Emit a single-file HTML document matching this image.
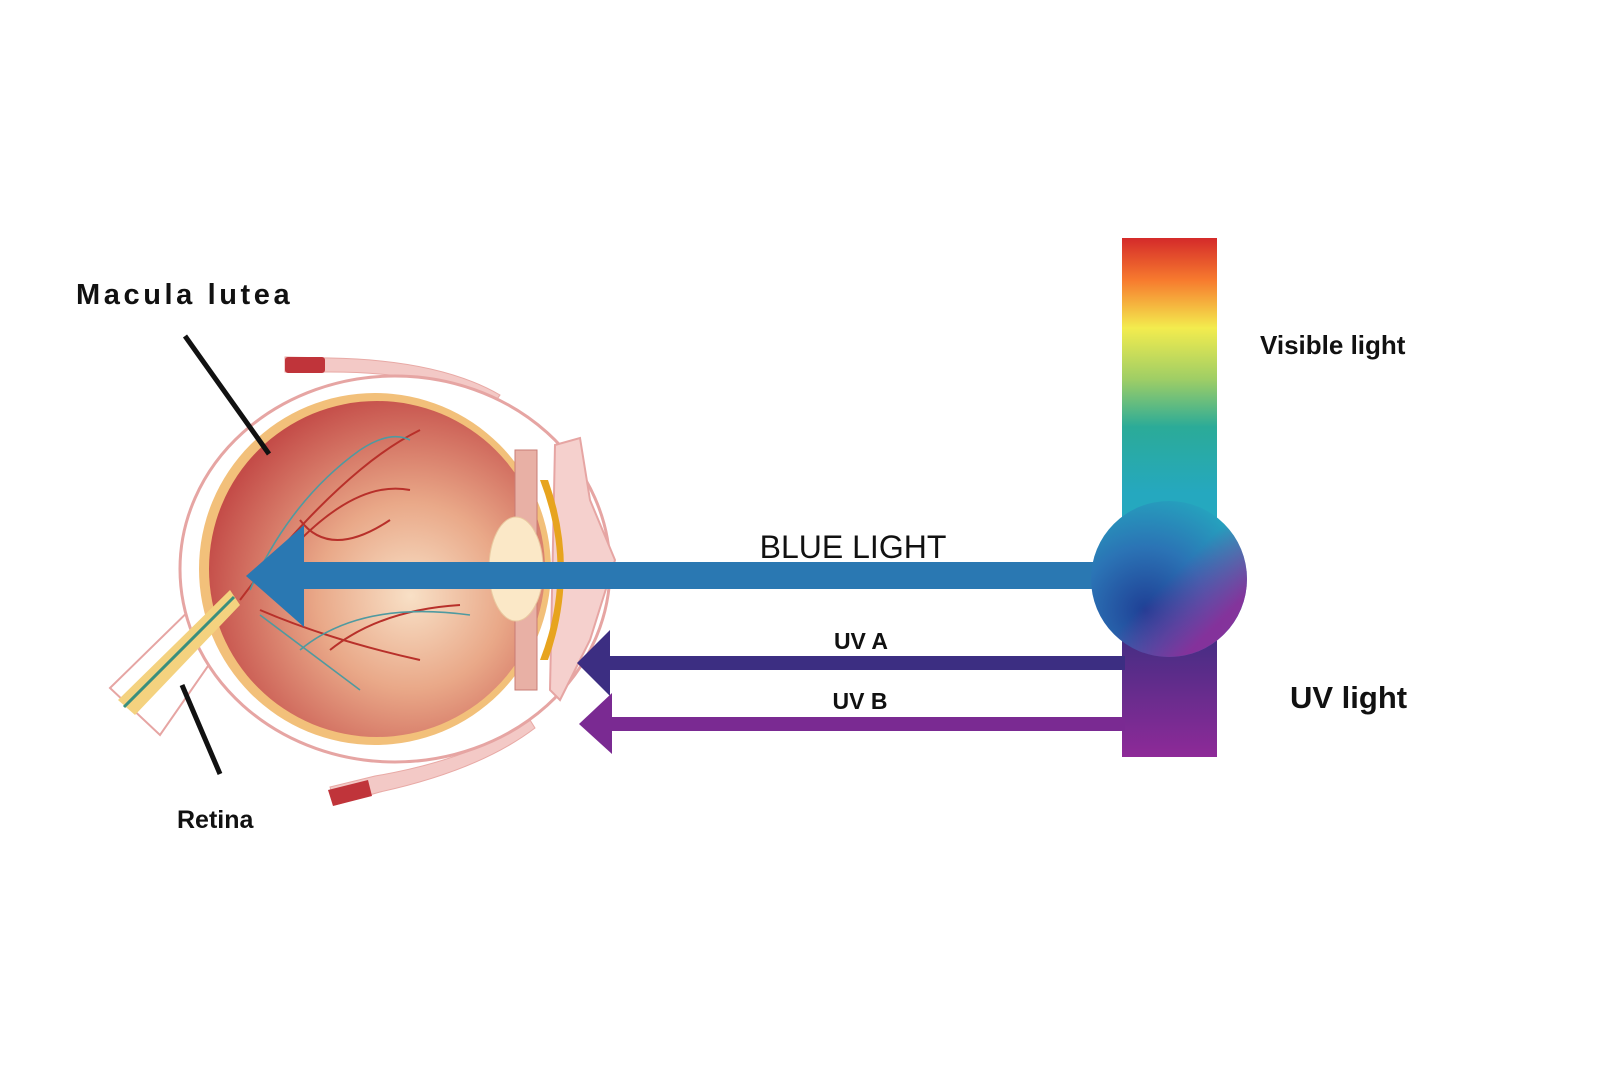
<!DOCTYPE html>
<html><head><meta charset="utf-8"><style>
html,body{margin:0;padding:0;background:#fff;}
svg{display:block}
text{font-family:"Liberation Sans",sans-serif;font-weight:bold;fill:#111}
</style></head><body>
<svg width="1600" height="1067" viewBox="0 0 1600 1067" xmlns="http://www.w3.org/2000/svg">
<defs>
<linearGradient id="spec" x1="0" y1="0" x2="0" y2="1">
<stop offset="0" stop-color="#d42a2a"/>
<stop offset="0.14" stop-color="#f77a2e"/>
<stop offset="0.3" stop-color="#f3ec4e"/>
<stop offset="0.47" stop-color="#9fce65"/>
<stop offset="0.63" stop-color="#2bab98"/>
<stop offset="0.85" stop-color="#25a8bf"/>
<stop offset="1" stop-color="#25a8bf"/>
</linearGradient>
<linearGradient id="uv" x1="0" y1="0" x2="0" y2="1">
<stop offset="0" stop-color="#3a2e80"/>
<stop offset="1" stop-color="#8e2a98"/>
</linearGradient>
<radialGradient id="ball" cx="0.35" cy="0.7" r="0.8">
<stop offset="0" stop-color="#1f3f95"/>
<stop offset="0.5" stop-color="#2b73b5"/>
<stop offset="1" stop-color="#25a8bf"/>
</radialGradient>
<linearGradient id="ballp" x1="0" y1="0" x2="1" y2="1">
<stop offset="0.5" stop-color="#8e2a98" stop-opacity="0"/>
<stop offset="0.8" stop-color="#8e2a98" stop-opacity="0.9"/>
</linearGradient>
<radialGradient id="eyeIn" cx="0.6" cy="0.58" r="0.62">
<stop offset="0" stop-color="#f8e0c6"/>
<stop offset="0.45" stop-color="#e9a888"/>
<stop offset="1" stop-color="#c44c48"/>
</radialGradient>
</defs>

<g>
<path d="M285 357 L330 358 Q440 360 500 395 L495 402 Q430 372 330 372 L285 372 Z" fill="#f3c9c6" stroke="#e8a9a5"/>
<rect x="285" y="357" width="40" height="16" rx="3" fill="#c0343a"/>
<path d="M330 787 L375 776 Q470 760 530 720 L535 728 Q480 770 380 792 L335 805 Z" fill="#f3c9c6" stroke="#e8a9a5"/>
<path d="M328 790 L368 780 L372 796 L333 806 Z" fill="#c0343a"/>
<path d="M110 688 L205 595 L240 620 L160 735 Z" fill="#fff" stroke="#e6a5a3" stroke-width="2"/>
<ellipse cx="395" cy="569" rx="215" ry="193" fill="#fff" stroke="#e6a5a3" stroke-width="3"/>
<path d="M555 445 L580 438 L590 500 L615 560 L590 640 L560 700 L550 690 Z" fill="#f5d0cd" stroke="#e6a5a3" stroke-width="2"/>
<circle cx="375" cy="569" r="176" fill="#f2c07a"/>
<circle cx="377" cy="569" r="168" fill="url(#eyeIn)"/>
<rect x="515" y="450" width="22" height="240" fill="#e8b0a5" stroke="#c97c75"/>
<path d="M540 480 Q575 570 540 660 L548 660 Q580 570 548 480 Z" fill="#e7a41e"/>
<ellipse cx="516" cy="569" rx="27" ry="52" fill="#fbe8c7" stroke="#e9c9a0"/>
<g stroke="#b8302a" stroke-width="2" fill="none">
<path d="M240 600 Q300 520 360 470 Q390 445 420 430"/>
<path d="M300 540 Q360 480 410 490"/>
<path d="M260 610 Q330 640 420 660"/>
<path d="M330 650 Q380 610 460 605"/>
<path d="M300 520 Q330 560 390 520"/>
</g>
<g stroke="#4f9aa0" stroke-width="1.6" fill="none">
<path d="M250 590 Q290 500 360 450 Q390 430 410 440"/>
<path d="M300 650 Q360 600 470 615"/>
<path d="M260 615 Q320 660 360 690"/>
</g>
<path d="M118 700 L230 590 L240 605 L135 715 Z" fill="#f4d27f"/>
<path d="M124 707 L234 597" stroke="#3a8f7d" stroke-width="3"/>
</g>

<line x1="185" y1="336" x2="269" y2="454" stroke="#111" stroke-width="5"/>
<line x1="182" y1="685" x2="220" y2="774" stroke="#111" stroke-width="5"/>
<text x="76" y="304" font-size="29" letter-spacing="3.6">Macula lutea</text>
<text x="177" y="828" font-size="25">Retina</text>

<rect x="1122" y="238" width="95" height="300" fill="url(#spec)"/>
<rect x="1122" y="620" width="95" height="137" fill="url(#uv)"/>

<rect x="610" y="656" width="515" height="14" fill="#3c2e82"/>
<polygon points="577,663 610,630 610,696" fill="#3c2e82"/>
<rect x="610" y="717" width="515" height="14" fill="#7a2a92"/>
<polygon points="579,724 612,693 612,754" fill="#7a2a92"/>

<rect x="302" y="562" width="795" height="27" fill="#2a78b2"/>
<polygon points="246,576 304,525 304,627" fill="#2a78b2"/>

<circle cx="1169" cy="579" r="78" fill="url(#ball)"/>
<circle cx="1169" cy="579" r="78" fill="url(#ballp)"/>

<text x="853" y="558" font-size="32" text-anchor="middle" style="font-weight:normal">BLUE LIGHT</text>
<text x="861" y="649" font-size="23" text-anchor="middle">UV A</text>
<text x="860" y="709" font-size="23" text-anchor="middle">UV B</text>
<text x="1260" y="354" font-size="26">Visible light</text>
<text x="1290" y="708" font-size="31">UV light</text>
</svg>
</body></html>
